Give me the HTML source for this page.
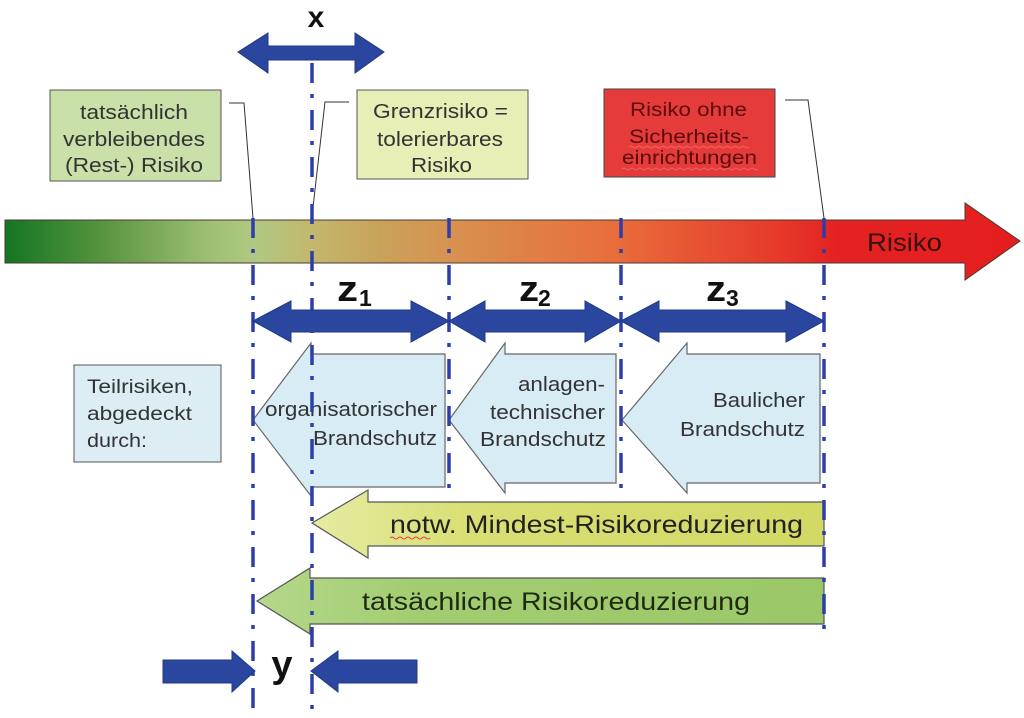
<!DOCTYPE html>
<html><head><meta charset="utf-8"><style>
html,body{margin:0;padding:0;background:#fff;}
svg{display:block;}
text{font-family:"Liberation Sans",Arial,sans-serif;}
</style></head><body>
<svg width="1024" height="718" viewBox="0 0 1024 718" xmlns="http://www.w3.org/2000/svg">
<defs>
<linearGradient id="bar" gradientUnits="userSpaceOnUse" x1="5" y1="0" x2="1020" y2="0">
<stop offset="0" stop-color="#137523"/>
<stop offset="0.1" stop-color="#5a9640"/>
<stop offset="0.2" stop-color="#9ebf72"/>
<stop offset="0.245" stop-color="#b0c982"/>
<stop offset="0.3" stop-color="#c2b86e"/>
<stop offset="0.37" stop-color="#c9a25a"/>
<stop offset="0.45" stop-color="#d98f4f"/>
<stop offset="0.6" stop-color="#e86d3c"/>
<stop offset="0.76" stop-color="#e63a2a"/>
<stop offset="0.82" stop-color="#e42222"/>
<stop offset="1" stop-color="#e41e1e"/>
</linearGradient>
<linearGradient id="notw" x1="0" y1="0" x2="1" y2="0">
<stop offset="0" stop-color="#e6eba2"/>
<stop offset="0.3" stop-color="#d9df74"/>
<stop offset="1" stop-color="#d2d964"/>
</linearGradient>
<linearGradient id="tats" x1="0" y1="0" x2="1" y2="0">
<stop offset="0" stop-color="#b4d88a"/>
<stop offset="0.3" stop-color="#a2cc70"/>
<stop offset="1" stop-color="#9bc868"/>
</linearGradient>
</defs>

<!-- main gradient arrow -->
<polygon points="5,220 965,220 965,203 1020,241 965,280 965,263 5,263" fill="url(#bar)" stroke="#4a3a30" stroke-width="1"/>
<text x="867" y="251" font-size="25" fill="#3a0f0f" textLength="75" lengthAdjust="spacingAndGlyphs">Risiko</text>

<!-- callout boxes -->
<rect x="50" y="90" width="171" height="91" fill="#c9e0a9" stroke="#555" stroke-width="1"/>
<g font-size="20" fill="#333">
<text x="80" y="119" textLength="108" lengthAdjust="spacingAndGlyphs">tatsächlich</text>
<text x="63" y="146" textLength="142" lengthAdjust="spacingAndGlyphs">verbleibendes</text>
<text x="65" y="172" textLength="138" lengthAdjust="spacingAndGlyphs">(Rest-) Risiko</text>
</g>
<rect x="357" y="90" width="171" height="89" fill="#e7efb7" stroke="#555" stroke-width="1"/>
<g font-size="20" fill="#333">
<text x="373" y="118" textLength="135" lengthAdjust="spacingAndGlyphs">Grenzrisiko =</text>
<text x="377" y="146" textLength="126" lengthAdjust="spacingAndGlyphs">tolerierbares</text>
<text x="411" y="172" textLength="61" lengthAdjust="spacingAndGlyphs">Risiko</text>
</g>
<rect x="604" y="89" width="171" height="88" fill="#e53b3b" stroke="#444" stroke-width="1"/>
<g font-size="19" fill="#5c0c0c">
<text x="630" y="116" textLength="117" lengthAdjust="spacingAndGlyphs">Risiko ohne</text>
<text x="629" y="143" textLength="120" lengthAdjust="spacingAndGlyphs">Sicherheits-</text>
<text x="622" y="164" textLength="135" lengthAdjust="spacingAndGlyphs">einrichtungen</text>
</g>
<path d="M629,147 q2,-2 4,0 t4,0 t4,0 t4,0 t4,0 t4,0 t4,0 t4,0 t4,0 t4,0 t4,0 t4,0 t4,0 t4,0 t4,0 t4,0 t4,0 t4,0 t4,0 t4,0 t4,0 t4,0 t4,0 t4,0 t4,0 t4,0 t4,0 t4,0 t4,0 t4,0" fill="none" stroke="#f07070" stroke-width="0.8"/>
<path d="M622,169 q2,-2 4,0 t4,0 t4,0 t4,0 t4,0 t4,0 t4,0 t4,0 t4,0 t4,0 t4,0 t4,0 t4,0 t4,0 t4,0 t4,0 t4,0 t4,0 t4,0 t4,0 t4,0 t4,0 t4,0 t4,0 t4,0 t4,0 t4,0 t4,0 t4,0 t4,0 t4,0 t4,0 t4,0 t4,0" fill="none" stroke="#f07070" stroke-width="0.8"/>

<!-- callout leader lines -->
<g fill="none" stroke="#333" stroke-width="1">
<polyline points="229,103 244,103 253,218"/>
<polyline points="349,102 325,102 312,216"/>
<polyline points="785,100 808,100 824,218"/>
</g>

<!-- Teilrisiken box -->
<rect x="74" y="365" width="147" height="97" fill="#dcedf4" stroke="#555" stroke-width="1"/>
<g font-size="19" fill="#333">
<text x="87" y="393" textLength="106" lengthAdjust="spacingAndGlyphs">Teilrisiken,</text>
<text x="87" y="420" textLength="105" lengthAdjust="spacingAndGlyphs">abgedeckt</text>
<text x="87" y="447" textLength="60" lengthAdjust="spacingAndGlyphs">durch:</text>
</g>

<!-- light blue block arrows -->
<g fill="#d8ecf5" stroke="#666" stroke-width="1.2">
<polygon points="253,420 311,343 311,354 445,354 445,487 311,487 311,496"/>
<polygon points="449,420 505,343 505,354 616,354 616,483 505,483 505,493"/>
<polygon points="622,420 687,343 687,354 820,354 820,483 687,483 687,493"/>
</g>
<g font-size="20" fill="#333">
<text x="265" y="416" textLength="172" lengthAdjust="spacingAndGlyphs">organisatorischer</text>
<text x="313" y="445" textLength="124" lengthAdjust="spacingAndGlyphs">Brandschutz</text>
<text x="518" y="391" textLength="87" lengthAdjust="spacingAndGlyphs">anlagen-</text>
<text x="490" y="419" textLength="115" lengthAdjust="spacingAndGlyphs">technischer</text>
<text x="480" y="446" textLength="126" lengthAdjust="spacingAndGlyphs">Brandschutz</text>
<text x="713" y="407" textLength="92" lengthAdjust="spacingAndGlyphs">Baulicher</text>
<text x="680" y="436" textLength="125" lengthAdjust="spacingAndGlyphs">Brandschutz</text>
</g>

<!-- notw arrow -->
<polygon points="312,523 368,490 368,502 824,502 824,546 368,546 368,558" fill="url(#notw)" stroke="#555" stroke-width="1.2"/>
<text x="390" y="533" font-size="25" fill="#222" textLength="413" lengthAdjust="spacingAndGlyphs">notw. Mindest-Risikoreduzierung</text>
<path d="M390,538 q2,-2 4,0 t4,0 t4,0 t4,0 t4,0 t4,0 t4,0 t4,0 t4,0 t4,0" fill="none" stroke="#e04040" stroke-width="0.9"/>

<!-- tatsächliche arrow -->
<polygon points="257,601 310,568 310,578 824,578 824,624 310,624 310,634" fill="url(#tats)" stroke="#555" stroke-width="1.2"/>
<text x="362" y="610" font-size="25" fill="#1e2a12" textLength="388" lengthAdjust="spacingAndGlyphs">tatsächliche Risikoreduzierung</text>

<!-- dash-dot vertical lines -->
<g stroke="#2c3eaa" stroke-width="3.5" stroke-dasharray="20 11 4 12" fill="none">
<line x1="253" y1="218" x2="253" y2="718"/>
<line x1="312" y1="63" x2="312" y2="718"/>
<line x1="449" y1="218" x2="449" y2="490"/>
<line x1="621" y1="218" x2="621" y2="490"/>
<line x1="824" y1="218" x2="824" y2="634"/>
</g>

<!-- blue arrows -->
<g fill="#2b469e" stroke="#1f3888" stroke-width="1">
<polygon points="238,52 268,33 268,46 355,46 355,33 384,52 355,73 355,60 268,60 268,73"/>
<polygon points="253,321 291,301 291,310 411,310 411,301 449,321 411,342 411,332 291,332 291,342"/>
<polygon points="449,321 485,301 485,310 585,310 585,301 621,321 585,342 585,332 485,332 485,342"/>
<polygon points="621,321 659,301 659,310 786,310 786,301 824,321 786,342 786,332 659,332 659,342"/>
<polygon points="163,660 232,660 232,651 255,671 232,692 232,683 163,683"/>
<polygon points="417,660 338,660 338,651 311,671 338,692 338,683 417,683"/>
</g>

<!-- labels -->
<text x="316" y="27" font-size="30" font-weight="bold" fill="#111" text-anchor="middle">x</text>
<text x="282" y="677" font-size="38" font-weight="bold" fill="#111" text-anchor="middle">y</text>
<g fill="#111" font-weight="bold">
<text x="337" y="301" font-size="36" textLength="21" lengthAdjust="spacingAndGlyphs">z</text><text x="359" y="306" font-size="23">1</text>
<text x="519" y="301" font-size="36" textLength="20" lengthAdjust="spacingAndGlyphs">z</text><text x="538" y="306" font-size="23">2</text>
<text x="706" y="301" font-size="36" textLength="20" lengthAdjust="spacingAndGlyphs">z</text><text x="726" y="306" font-size="23">3</text>
</g>
</svg>
</body></html>
